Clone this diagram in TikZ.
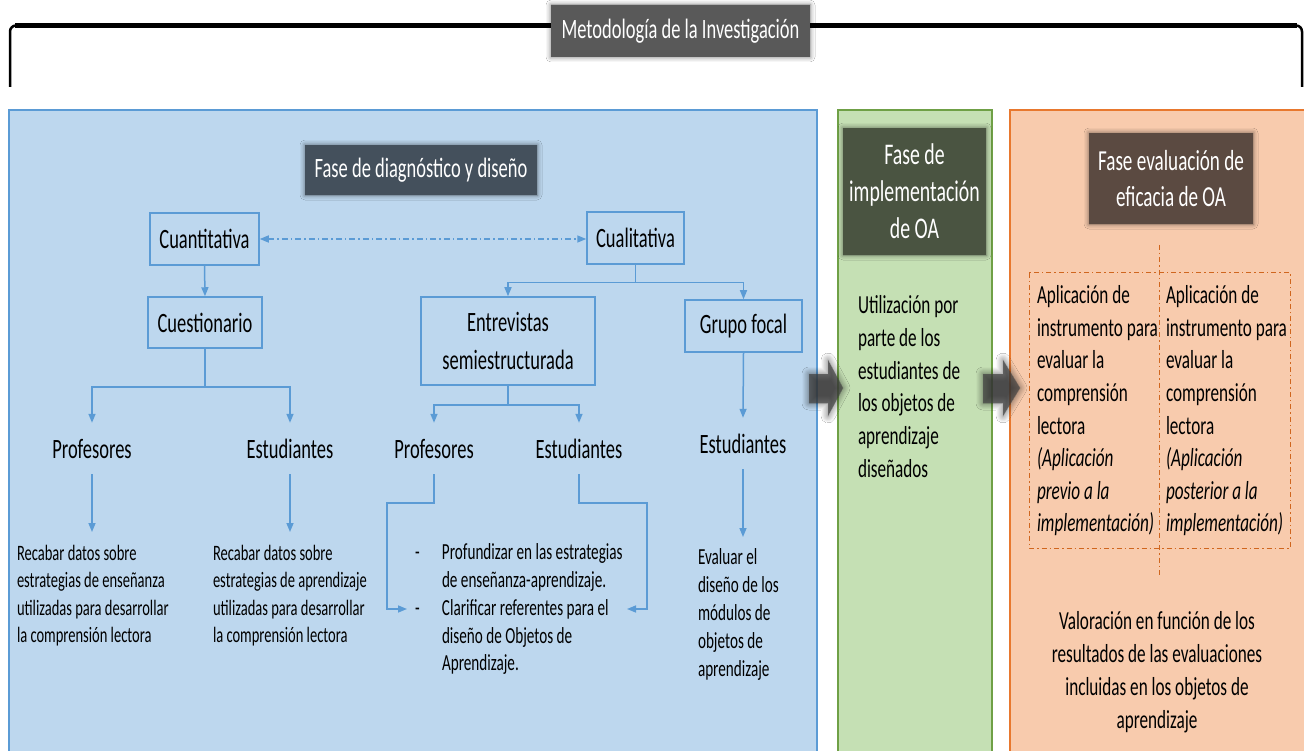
\documentclass[tikz,border=0pt]{standalone}
\usepackage{fontspec}
\setmainfont{Carlito}[FakeStretch=0.66]
\usetikzlibrary{arrows.meta,shadows.blur,calc}
\definecolor{bluefill}{HTML}{BDD7EE}
\definecolor{blueline}{HTML}{5B9BD5}
\definecolor{greenfill}{HTML}{C5E0B4}
\definecolor{greenline}{HTML}{6FA046}
\definecolor{orangefill}{HTML}{F8CBAD}
\definecolor{orangeline}{HTML}{E8782E}
\definecolor{dashorange}{HTML}{D0661E}
\definecolor{labgray}{HTML}{595959}
\definecolor{labslate}{HTML}{44505C}
\definecolor{labgreen}{HTML}{4A5441}
\definecolor{labbrown}{HTML}{5B4A41}
\definecolor{fatgray}{HTML}{404040}
\newcommand{\myfs}[2]{\fontsize{#1}{#2}\selectfont}
\begin{document}
\begin{tikzpicture}[x=1pt,y=-1pt,
  panel/.style={line width=1.5pt},
  labelbox/.style={fill=#1, text=white, align=center, inner sep=0pt,
    blur shadow={shadow xshift=0pt, shadow yshift=0pt, shadow blur radius=5pt, shadow opacity=55}},
  qbox/.style={draw=blueline, line width=1.5pt, align=center, inner sep=0pt, font=\myfs{28}{38}},
  conn/.style={draw=blueline, line width=1.5pt, -{Triangle[length=9pt,width=7pt]}},
  lbl/.style={font=\myfs{28}{34}, inner xsep=0pt, inner ysep=16pt, text height=19pt, text depth=0pt, anchor=base},
  txt/.style={align=left, inner sep=0pt, outer xsep=0pt, anchor=north west},
  ddash/.style={draw=dashorange, line width=1pt, dash pattern=on 5pt off 3pt on 1.5pt off 3pt},
  fat/.style={fill=fatgray, fill opacity=0.7, blur shadow={shadow xshift=0pt, shadow yshift=0pt, shadow blur radius=7pt, shadow opacity=60, shadow blur steps=12}}
]
\clip (0,0) rectangle (1304,751);
\fill[white] (0,0) rectangle (1304,751);

% panels
\draw[panel, draw=blueline, fill=bluefill] (9,110) rectangle (817,770);
\draw[panel, draw=greenline, fill=greenfill] (838,110) rectangle (992,770);
\draw[panel, draw=orangeline, fill=orangefill] (1010,110) rectangle (1320,770);

% bracket
\draw[line width=2.5pt, rounded corners=6pt] (10,87) -- (10,25.5) -- (1302,25.5) -- (1302,87);
\draw[line width=5pt] (15,25.5) -- (1297,25.5);
\node[labelbox=labgray, minimum width=259pt, minimum height=52pt, font=\myfs{28}{34}] (metod) at (680.5,31) {Metodología de la Investigación};

% phase labels
\node[labelbox=labslate, minimum width=232pt, minimum height=50pt, font=\myfs{28}{34}] (diag) at (421,170) {Fase de diagnóstico y diseño};
\node[labelbox=labgreen, minimum width=143pt, minimum height=127pt, font=\myfs{30}{37}] (impl) at (914.5,191.5) {Fase de\\implementación\\de OA};
\node[labelbox=labbrown, minimum width=164pt, minimum height=91pt, font=\myfs{29}{36}] (efic) at (1171,178.5) {Fase evaluación de\\eficacia de OA};

% method boxes
\node[qbox, minimum width=109pt, minimum height=52pt] (cuant) at (204.5,239) {Cuantitativa};
\node[qbox, minimum width=97pt, minimum height=52pt] (cual) at (635.5,238) {Cualitativa};
\node[qbox, minimum width=114pt, minimum height=51pt] (cuest) at (205,322.5) {Cuestionario};
\node[qbox, minimum width=174pt, minimum height=88pt] (entr) at (508,341) {Entrevistas\\semiestructurada};
\node[qbox, minimum width=117pt, minimum height=52pt] (grupo) at (743.5,326) {Grupo focal};

\draw[draw=blueline, line width=1.5pt, dash pattern=on 6pt off 3pt on 1.5pt off 3pt,
  {Triangle[length=9pt,width=7pt]}-{Triangle[length=9pt,width=7pt]}] (cuant.east) -- (cuant.east -| cual.west);

% second level labels
\node[lbl] (prof1) at (92,458) {Profesores};
\node[lbl] (est1) at (290,458) {Estudiantes};
\node[lbl] (prof2) at (434,458) {Profesores};
\node[lbl] (est2) at (579,458) {Estudiantes};
\node[lbl] (est3) at (743,453) {Estudiantes};

\draw[conn] (cuant.south) -- (cuest.north);
\draw[conn] (cual.south) -- ++(0,18) -| (entr.north);
\draw[conn] (cual.south) -- ++(0,18) -| (grupo.north);
\draw[conn] (cuest.south) -- ++(0,38) -| (prof1.north);
\draw[conn] (cuest.south) -- ++(0,38) -| (est1.north);
\draw[conn] (entr.south) -- ++(0,19) -| (prof2.north);
\draw[conn] (entr.south) -- ++(0,19) -| (est2.north);
\draw[conn] (grupo.south) -- (est3.north);

% text blocks
\node[txt, font=\myfs{22}{27.5}, outer ysep=13pt] (rec1) at (17,532) {Recabar datos sobre\\estrategias de enseñanza\\utilizadas para desarrollar\\la comprensión lectora};
\node[txt, font=\myfs{22}{27.5}, outer ysep=13pt] (rec2) at (213,532) {Recabar datos sobre\\estrategias de aprendizaje\\utilizadas para desarrollar\\la comprensión lectora};
\draw[conn] (prof1.south) -- (prof1.south |- rec1.north);
\draw[conn] (est1.south) -- (est1.south |- rec2.north);

\node[txt, font=\myfs{23}{27.8}] (bul) at (415,543.5) {\makebox[27pt][l]{-}Profundizar en las estrategias\\\hspace*{27pt}de  enseñanza-aprendizaje.\\\makebox[27pt][l]{-}Clarificar referentes para el\\\hspace*{27pt}diseño de Objetos de\\\hspace*{27pt}Aprendizaje.};
\coordinate (pl) at (387,503);
\coordinate (pr) at (647,503);
\coordinate (bulL) at (407,609);
\coordinate (bulR) at (627,609);
\draw[conn] (prof2.south) |- (pl) |- (bulL);
\draw[conn] (est2.south) |- (pr) |- (bulR);

\node[txt, font=\myfs{23}{28}, outer ysep=11.5pt] (eval) at (698,537) {Evaluar el\\diseño de los\\módulos de\\objetos de\\aprendizaje};
\draw[conn] (est3.south) -- (est3.south |- eval.north);

% implementation text
\node[txt, font=\myfs{26}{32.7}] (util) at (858,295.5) {Utilización por\\parte de los\\estudiantes de\\los objetos de\\aprendizaje\\diseñados};

% evaluation columns
\coordinate (vtop) at (1159,245);
\coordinate (vbot) at (1159,576);
\draw[ddash] (vtop) -- (vbot);
\draw[ddash] (1029,273) rectangle (1290,548);
\node[txt, font=\myfs{26}{32.6}] (col1) at (1037,285.5) {Aplicación de\\instrumento para\\evaluar la\\comprensión\\lectora\\\textit{(Aplicación}\\\textit{previo a la}\\\textit{implementación)}};
\node[txt, font=\myfs{26}{32.6}] (col2) at (1166,285.5) {Aplicación de\\instrumento para\\evaluar la\\comprensión\\lectora\\\textit{(Aplicación}\\\textit{posterior a la}\\\textit{implementación)}};
\node[align=center, inner sep=0pt, anchor=north, font=\myfs{26}{33}] (valor) at (1157,611) {Valoración en función de los\\resultados de las evaluaciones\\incluidas en los objetos de\\aprendizaje};

% fat arrows
\fill[fat] (809,374) -- (828,374) -- (828,360) -- (843,388) -- (828,416) -- (828,403) -- (809,403) -- cycle;
\fill[fat] (983,374) -- (1003,374) -- (1003,360) -- (1020,388) -- (1003,416) -- (1003,403) -- (983,403) -- cycle;
\end{tikzpicture}
\end{document}
